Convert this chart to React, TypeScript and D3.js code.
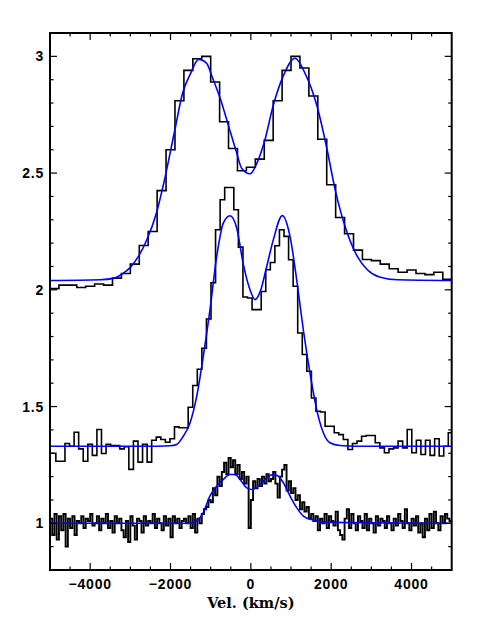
import React from "react";
import * as d3 from "d3";

// ---- data (velocity in km/s, flux offset units) ----
const topStart = -5000;
const topBinWidth = 10000 / 45;
const topValues = [2.005, 2.02, 2.02, 2.01, 2.015, 2.025, 2.02, 2.05, 2.07, 2.11, 2.19, 2.25, 2.425, 2.6, 2.81, 2.94, 2.99, 3.0, 2.89, 2.72, 2.605, 2.51, 2.525, 2.56, 2.64, 2.81, 2.94, 3.0, 2.95, 2.83, 2.645, 2.45, 2.31, 2.24, 2.17, 2.13, 2.125, 2.11, 2.09, 2.075, 2.085, 2.07, 2.065, 2.075, 2.045];

const midStart = -4968;
const midBinWidth = 113.6;
const midValues = [
  1.3, 1.266, 1.266, 1.342, 1.33, 1.39, 1.319, 1.266, 1.338, 1.291,
  1.402, 1.299, 1.338, 1.333, 1.333, 1.319, 1.328, 1.231, 1.352, 1.262,
  1.338, 1.262, 1.356, 1.369, 1.359, 1.347, 1.362, 1.413, 1.409, 1.409,
  1.497, 1.59, 1.66, 1.75, 1.875, 2.03, 2.257, 2.386, 2.438, 2.438,
  2.343, 2.183, 1.969, 1.965, 1.915, 1.915, 1.993, 2.086, 2.117, 2.189,
  2.257, 2.229, 2.129, 2.015, 1.815, 1.723, 1.651, 1.537, 1.48, 1.477,
  1.416, 1.416, 1.388, 1.38, 1.359, 1.316, 1.342, 1.352, 1.373, 1.376,
  1.376, 1.345, 1.323, 1.302, 1.319, 1.323, 1.352, 1.323, 1.402, 1.302,
  1.356, 1.295, 1.356, 1.291, 1.362, 1.288, 1.33, 1.388,
];

const botStart = -5000;
const botBinWidth = 10000 / 180;
const botValues = [
  1.02, 0.95, 1.04, 0.93, 1.03, 0.97, 1.04, 0.9, 1.02, 0.98,
  1.03, 0.95, 1.01, 1.0, 1.03, 0.98, 1.02, 1.01, 1.04, 0.99,
  1.0, 1.03, 0.97, 1.02, 1.0, 1.04, 0.98, 1.01, 0.96, 1.03,
  1.0, 1.02, 0.97, 0.94, 1.01, 0.92, 1.03, 0.99, 0.93, 1.02,
  1.01, 0.96, 1.03, 0.99, 1.01, 1.0, 1.04, 0.98, 1.02, 1.0,
  0.97, 1.03, 0.99, 1.02, 0.94, 1.03, 1.0, 1.02, 0.98, 1.01,
  1.02, 1.0, 1.03, 0.98, 1.04, 0.96, 1.02, 1.0, 1.04, 1.06,
  1.07, 1.1, 1.09, 1.15, 1.12, 1.2, 1.16, 1.22, 1.26, 1.21,
  1.28, 1.24, 1.27, 1.21, 1.25, 1.19, 1.22, 1.17, 1.2, 0.98,
  1.1, 1.18, 1.15, 1.19, 1.16, 1.2, 1.17, 1.21, 1.18, 1.19,
  1.22, 1.17, 1.11, 1.2, 1.23, 1.25, 1.14, 1.18, 1.13, 1.15,
  1.1, 1.12, 1.06, 1.09, 1.05, 1.07, 1.02, 1.04, 1.01, 1.03,
  0.97, 1.02, 1.0, 1.04, 0.98, 1.03, 1.01, 0.99, 1.05, 0.97,
  0.95, 0.93, 1.02, 1.06, 0.98, 1.04, 1.0, 0.97, 1.03, 1.01,
  0.98, 1.04, 0.97, 1.02, 1.0, 0.96, 1.03, 0.99, 1.02, 1.01,
  0.98, 1.03, 1.0, 0.97, 1.02, 0.99, 1.04, 1.01, 0.98, 1.06,
  1.0, 0.97, 1.02, 0.99, 1.03, 0.96, 1.0, 0.94, 1.02, 0.97,
  1.04, 0.98, 1.05, 1.0, 0.97, 1.03, 1.0, 1.04, 1.02, 1.01,
];

const topFitV = [-5000, -3750, -3400, -3200, -3000, -2800, -2600, -2350, -2150, -1900, -1700, -1500, -1300, -1100, -950, -750, -550, -350, -230, -20, 150, 350, 550, 800, 1100, 1350, 1650, 1900, 2100, 2400, 2650, 2900, 3200, 3650, 5000];
const topFitY = [2.04, 2.043, 2.05, 2.068, 2.096, 2.143, 2.21, 2.329, 2.471, 2.678, 2.842, 2.927, 2.987, 2.97, 2.906, 2.813, 2.699, 2.585, 2.521, 2.497, 2.543, 2.642, 2.785, 2.913, 2.992, 2.927, 2.785, 2.599, 2.428, 2.243, 2.143, 2.086, 2.055, 2.043, 2.04];

const midFitV = [-5000, -2300, -2013, -1846, -1682, -1515, -1348, -1184, -1017, -850, -686, -519, -352, -188, -21, 103, 228, 395, 559, 783, 975, 1141, 1306, 1472, 1639, 1804, 1970, 2219, 2600, 5000];
const midFitY = [1.33, 1.33, 1.332, 1.338, 1.373, 1.43, 1.544, 1.715, 1.915, 2.143, 2.286, 2.317, 2.265, 2.11, 2.0, 1.958, 1.99, 2.1, 2.214, 2.318, 2.229, 2.043, 1.829, 1.644, 1.487, 1.388, 1.345, 1.333, 1.33, 1.33];

const botFitV = [-5000, -1515, -1348, -1184, -1017, -850, -686, -519, -395, -270, -104, 21, 228, 395, 559, 683, 808, 975, 1141, 1306, 1555, 1888, 5000];
const botFitY = [1.0, 1.0, 1.01, 1.046, 1.117, 1.159, 1.188, 1.209, 1.209, 1.188, 1.152, 1.145, 1.165, 1.195, 1.209, 1.202, 1.174, 1.117, 1.067, 1.031, 1.014, 1.004, 1.0];

const xMajorTicks = [-4000, -2000, 0, 2000, 4000];
const yMajorTicks = [1, 1.5, 2, 2.5, 3];

const xDomain = [-5000, 5000];
const yDomain = [0.8, 3.1];

export default function App() {
  const W = 477, H = 635;
  const left = 50, right = 451.7, top = 33, bottom = 570;
  const x = d3.scaleLinear().domain(xDomain).range([left, right]);
  const y = d3.scaleLinear().domain(yDomain).range([bottom, top]);

  const histPath = (start: number, width: number, vals: number[]) => {
    const pts: [number, number][] = vals.map((v, i) => [start + i * width, v]);
    pts.push([start + vals.length * width, vals[vals.length - 1]]);
    return d3.line<[number, number]>()
      .x((d) => x(d[0]))
      .y((d) => y(d[1]))
      .curve(d3.curveStepAfter)(pts) || "";
  };
  const fitPath = (vs: number[], ys: number[]) =>
    d3.line<number>()
      .x((_, i) => x(vs[i]))
      .y((d) => y(d))
      .curve(d3.curveMonotoneX)(ys) || "";

  const xMinor = d3.range(-4500, 5000, 500).filter((v) => v % 2000 !== 0);
  const yMinor = d3.range(9, 31).map((v) => v / 10).filter((v) => Math.abs(v * 2 - Math.round(v * 2)) > 1e-6);
  const fmt = d3.format("");
  const tickFont = "'Liberation Sans', Arial, sans-serif";

  return (
    <svg width={W} height={H} style={{ position: "absolute", left: 0, top: 0, background: "#fff" }}>
      <defs>
        <clipPath id="plotclip">
          <rect x={left} y={top} width={right - left} height={bottom - top} />
        </clipPath>
      </defs>
      <g clipPath="url(#plotclip)" fill="none">
        <path d={histPath(topStart, topBinWidth, topValues)} stroke="#000" strokeWidth={1.6} />
        <path d={histPath(midStart, midBinWidth, midValues)} stroke="#000" strokeWidth={1.6} />
        <path d={histPath(botStart, botBinWidth, botValues)} stroke="#000" strokeWidth={1.9} />
        <path d={fitPath(topFitV, topFitY)} stroke="#0000ff" strokeWidth={1.6} />
        <path d={fitPath(midFitV, midFitY)} stroke="#0000ff" strokeWidth={1.6} />
        <path d={fitPath(botFitV, botFitY)} stroke="#0000ff" strokeWidth={1.6} />
      </g>
      <g stroke="#000" strokeWidth={1.2}>
        {xMajorTicks.map((t) => (
          <g key={"xM" + t}>
            <line x1={x(t)} x2={x(t)} y1={bottom} y2={bottom - 7} />
            <line x1={x(t)} x2={x(t)} y1={top} y2={top + 7} />
          </g>
        ))}
        {xMinor.map((t) => (
          <g key={"xm" + t}>
            <line x1={x(t)} x2={x(t)} y1={bottom} y2={bottom - 3.5} />
            <line x1={x(t)} x2={x(t)} y1={top} y2={top + 3.5} />
          </g>
        ))}
        {yMajorTicks.map((t) => (
          <g key={"yM" + t}>
            <line x1={left} x2={left + 7} y1={y(t)} y2={y(t)} />
            <line x1={right} x2={right - 7} y1={y(t)} y2={y(t)} />
          </g>
        ))}
        {yMinor.map((t) => (
          <g key={"ym" + t}>
            <line x1={left} x2={left + 3.5} y1={y(t)} y2={y(t)} />
            <line x1={right} x2={right - 3.5} y1={y(t)} y2={y(t)} />
          </g>
        ))}
      </g>
      <rect x={left} y={top} width={right - left} height={bottom - top} fill="none" stroke="#000" strokeWidth={2} />
      <g fontFamily={tickFont} fontWeight="bold" fontSize={14} fill="#000">
        {xMajorTicks.map((t) => (
          <text key={"xl" + t} x={x(t)} y={589} textAnchor="middle" letterSpacing={0.8}>
            {fmt(t)}
          </text>
        ))}
        {yMajorTicks.map((t) => (
          <text key={"yl" + t} x={44} y={y(t)} dy="0.36em" textAnchor="end" letterSpacing={0.8}>
            {fmt(t)}
          </text>
        ))}
      </g>
      <text x={(left + right) / 2} y={608} textAnchor="middle" fontFamily="'DejaVu Serif', serif" fontWeight="bold" fontSize={14.5}>
        Vel. (km/s)
      </text>
    </svg>
  );
}
